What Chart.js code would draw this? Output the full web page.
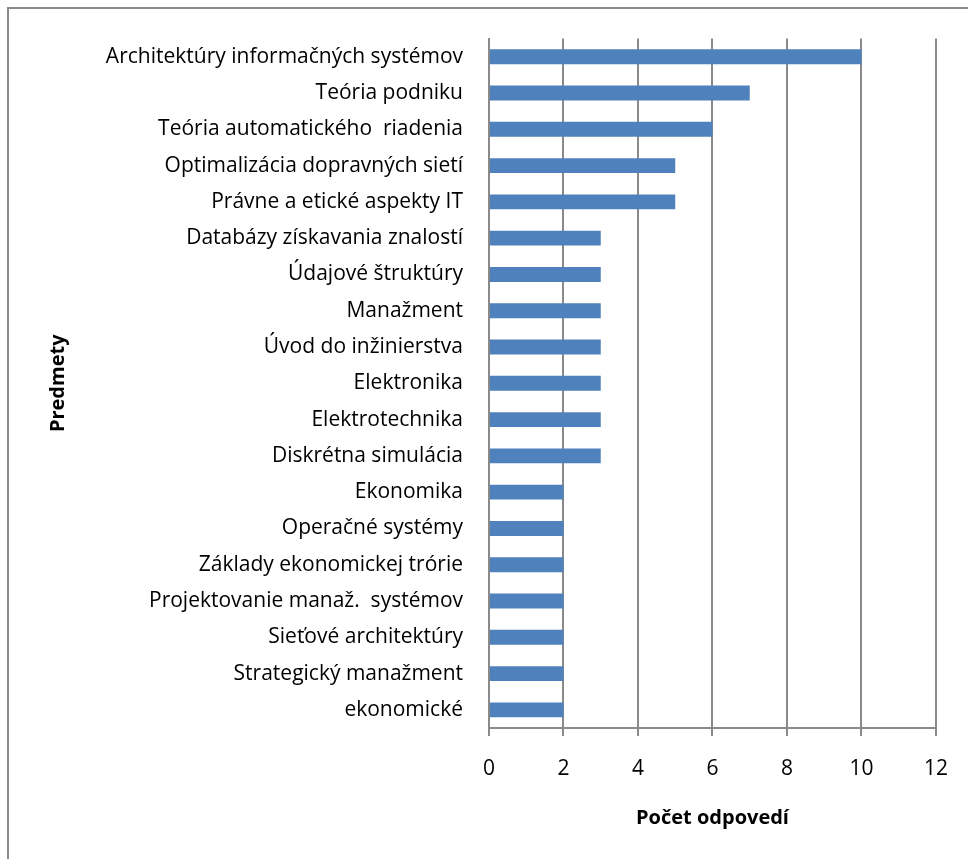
<!DOCTYPE html>
<html>
<head>
<meta charset="utf-8">
<script src="https://cdn.jsdelivr.net/npm/chart.js@4"></script>
<style>
  html, body { margin: 0; padding: 0; background: #fff; }
  #wrap { position: relative; width: 968px; height: 859px; overflow: hidden; }
  #frame { position: absolute; left: 7px; top: 7px; width: 1000px; height: 900px;
           border-left: 2px solid #8a8a8a; border-top: 2px solid #8a8a8a; }
  canvas { position: absolute; left: 0; top: 0; }
</style>
</head>
<body>
<div id="wrap">
  <div id="frame"></div>
  <canvas id="c" width="968" height="859"></canvas>
</div>
<script>
const categories = [
  "Architektúry informačných systémov",
  "Teória podniku",
  "Teória automatického  riadenia",
  "Optimalizácia dopravných sietí",
  "Právne a etické aspekty IT",
  "Databázy získavania znalostí",
  "Údajové štruktúry",
  "Manažment",
  "Úvod do inžinierstva",
  "Elektronika",
  "Elektrotechnika",
  "Diskrétna simulácia",
  "Ekonomika",
  "Operačné systémy",
  "Základy ekonomickej trórie",
  "Projektovanie manaž.  systémov",
  "Sieťové architektúry",
  "Strategický manažment",
  "ekonomické"
];
const counts = [10, 7, 6, 5, 5, 3, 3, 3, 3, 3, 3, 3, 2, 2, 2, 2, 2, 2, 2];
const xTicks = [0, 2, 4, 6, 8, 10, 12];
const xTitle = "Počet odpovedí";
const yTitle = "Predmety";

const FONT = "'Open Sans', 'Liberation Sans', sans-serif";
const GRID = "#8a8a8a";

new Chart(document.getElementById('c'), {
  type: 'bar',
  data: {
    labels: categories,
    datasets: [{
      data: counts,
      backgroundColor: '#4F81BD',
      borderWidth: 0,
      categoryPercentage: 1,
      barPercentage: 0.41
    }]
  },
  options: {
    indexAxis: 'y',
    responsive: false,
    animation: false,
    devicePixelRatio: 1,
    layout: { padding: { left: 46, top: 34, right: 32, bottom: 29 } },
    plugins: { legend: { display: false }, tooltip: { enabled: false } },
    scales: {
      x: {
        min: 0, max: 12,
        afterBuildTicks: (s) => { s.ticks = xTicks.map(v => ({ value: v })); },
        afterFit: (s) => { s.height = 102; },
        grid: { color: GRID, lineWidth: 2, tickLength: 8, drawTicks: true },
        border: { display: true, color: GRID, width: 2 },
        ticks: { color: '#000', font: { family: FONT, size: 21 }, padding: 20 },
        title: { display: true, text: xTitle, color: '#000', padding: 0,
                 font: { family: FONT, size: 20, weight: 'bold' } }
      },
      y: {
        afterFit: (s) => { s.width = 443; },
        grid: { display: false, drawTicks: false },
        border: { display: true, color: GRID, width: 2 },
        ticks: { color: '#000', font: { family: FONT, size: 21 }, padding: 26, autoSkip: false },
        title: { display: true, text: yTitle, color: '#000', padding: 0,
                 font: { family: FONT, size: 20, weight: 'bold' } }
      }
    }
  }
});
</script>
</body>
</html>
